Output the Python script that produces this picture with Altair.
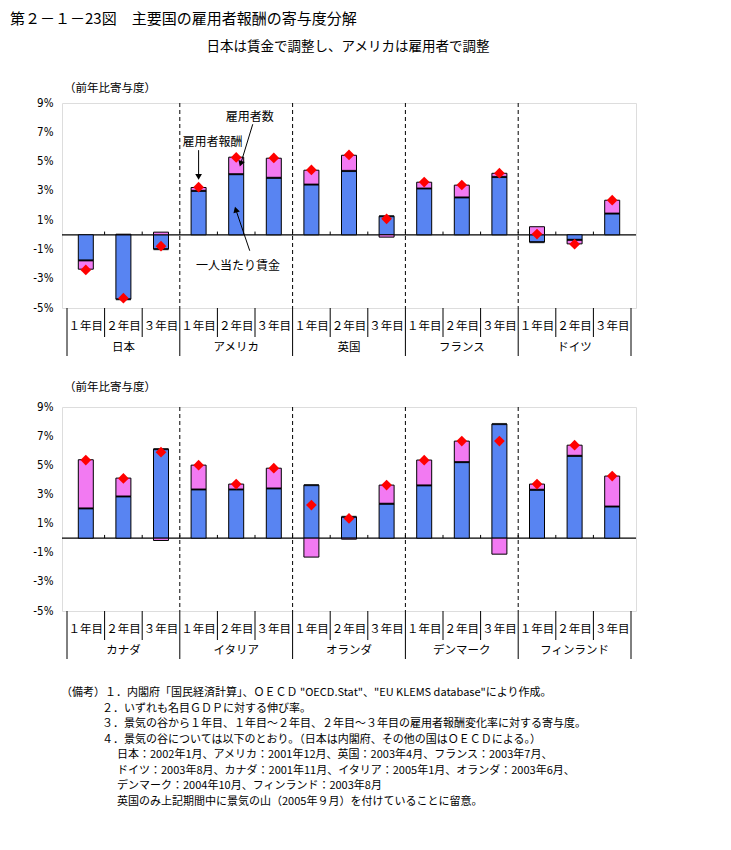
import altair as alt
import pandas as pd

FONT = "Noto Sans CJK JP"
NUMFONT = "Liberation Sans Narrow, DejaVu Sans Condensed, Liberation Sans"

years = ["１年目", "２年目", "３年目"]

countries_top = ["日本", "アメリカ", "英国", "フランス", "ドイツ"]
wage_top = [-1.75, -4.40, -0.98, 3.00, 4.14, 3.89, 3.43, 4.36, 1.27, 3.16, 2.55, 3.95, -0.50, -0.35, 1.45]
emp_top = [-0.60, 0.04, 0.18, 0.23, 1.16, 1.34, 0.98, 1.07, -0.16, 0.43, 0.84, 0.25, 0.55, -0.27, 0.91]
total_top = [-2.40, -4.33, -0.78, 3.25, 5.28, 5.25, 4.43, 5.45, 1.09, 3.60, 3.40, 4.21, 0.05, -0.64, 2.36]

countries_bottom = ["カナダ", "イタリア", "オランダ", "デンマーク", "フィンランド"]
wage_bottom = [2.04, 2.86, 6.11, 3.34, 3.34, 3.41, 3.64, 1.46, 2.36, 3.62, 5.22, 7.83, 3.32, 5.65, 2.17]
emp_bottom = [3.34, 1.26, -0.16, 1.67, 0.37, 1.39, -1.30, -0.07, 1.28, 1.74, 1.44, -1.10, 0.39, 0.73, 2.09]
total_bottom = [5.36, 4.10, 5.90, 5.01, 3.71, 4.80, 2.27, 1.35, 3.64, 5.35, 6.66, 6.66, 3.71, 6.38, 4.26]

y_ticks = [-5, -3, -1, 1, 3, 5, 7, 9]
y_domain = [-5, 9]

# annotations (top panel), in data units: category-index x, percent y
ann_labels = ["雇用者数", "雇用者報酬", "一人当たり賃金"]
ann_text_x = [4.86, 3.87, 4.55]
ann_text_y = [8.03, 6.33, -2.10]
ann_from_x = [4.94, 3.50, 4.86]
ann_from_y = [7.55, 5.78, -1.09]
ann_to_x = [4.62, 3.50, 4.49]
ann_to_y = [4.85, 3.95, 1.72]
ann_angle = [199, 180, 343]

title_text = "第２－１－23図　主要国の雇用者報酬の寄与度分解"
subtitle_text = "日本は賃金で調整し、アメリカは雇用者で調整"
unit_text = "（前年比寄与度）"
notes_1 = ["（備考）１．内閣府「国民経済計算」、ＯＥＣＤ \"OECD.Stat\"、\"EU KLEMS database\"により作成。"]
notes_2 = [
    "２．いずれも名目ＧＤＰに対する伸び率。",
    "３．景気の谷から１年目、１年目～２年目、２年目～３年目の雇用者報酬変化率に対する寄与度。",
    "４．景気の谷については以下のとおり。（日本は内閣府、その他の国はＯＥＣＤによる。）",
]
notes_3 = [
    "日本：2002年1月、アメリカ：2001年12月、英国：2003年4月、フランス：2003年7月、",
    "ドイツ：2003年8月、カナダ：2001年11月、イタリア：2005年1月、オランダ：2003年6月、",
    "デンマーク：2004年10月、フィンランド：2003年8月",
    "英国のみ上記期間中に景気の山（2005年９月）を付けていることに留意。",
]

BLUE = "#5884f2"
PINK = "#f27af2"

EXTENT = 53


def panel(countries, wage, emp, total, W, H, extra_layers):
    n = len(countries) * 3
    xs = alt.Scale(domain=[0, n], nice=False, zero=False)
    ys = alt.Scale(domain=y_domain, nice=False)
    yax = alt.Axis(values=y_ticks, labelExpr="datum.value + '%'", ticks=False, domain=False,
                   grid=False, labelPadding=9, title=None, labelFont=NUMFONT, labelFontSize=11.5,
                   labelColor="#000", minExtent=EXTENT, maxExtent=EXTENT)
    X = lambda f: alt.X(f, type="quantitative", scale=xs, axis=None)
    X2 = lambda f: alt.X2(f)
    Y = lambda f: alt.Y(f, type="quantitative", scale=ys, axis=yax)
    Y2 = lambda f: alt.Y2(f)

    rows = []
    for i in range(n):
        rows.append(dict(pos=i + 0.5, comp="一人当たり賃金", order=0, value=wage[i]))
        rows.append(dict(pos=i + 0.5, comp="雇用者数", order=1, value=emp[i]))
    bars_df = pd.DataFrame(rows)
    pts_df = pd.DataFrame(dict(pos=[i + 0.5 for i in range(n)], total=total, wage=wage,
                               year=[years[i % 3] for i in range(n)]))
    bounds_df = pd.DataFrame(dict(b=list(range(n + 1))))
    short_df = bounds_df[bounds_df.b % 3 != 0]
    long_df = bounds_df[bounds_df.b % 3 == 0]
    dash_df = pd.DataFrame(dict(b=[b for b in range(3, n, 3)]))
    ctry_df = pd.DataFrame(dict(c=countries, pos=[3 * g + 1.5 for g in range(len(countries))]))
    inner_df = pd.DataFrame(dict(b=[b for b in range(1, n)], z=0.0, t=0.22))

    zero = alt.Chart(pd.DataFrame(dict(z=[0.0]))).mark_rule(color="black", strokeWidth=1.3).encode(
        y=Y("z"), x=alt.value(0), x2=alt.value(W))
    zero_ticks = alt.Chart(inner_df).mark_rule(color="black", strokeWidth=1).encode(
        x=X("b"), y=Y("z"), y2=Y2("t"))
    bars = alt.Chart(bars_df).mark_bar(size=15, stroke="black", strokeWidth=1).encode(
        x=X("pos"),
        y=alt.Y("value:Q", scale=ys, axis=yax, stack="zero"),
        color=alt.Color("comp:N", scale=alt.Scale(domain=["一人当たり賃金", "雇用者数"], range=[BLUE, PINK]),
                        legend=None),
        order=alt.Order("order:Q"),
    )
    seg = alt.Chart(pts_df).mark_tick(orient="horizontal", size=15, thickness=2.2, color="black").encode(
        x=X("pos"), y=Y("wage"))
    dashes = alt.Chart(dash_df).mark_rule(color="black", strokeWidth=1, strokeDash=[4, 3]).encode(
        x=X("b"), y=alt.value(0), y2=alt.value(H))
    diamonds = alt.Chart(pts_df).mark_point(shape="diamond", filled=True, color="#ff0000", size=115,
                                            opacity=1).encode(x=X("pos"), y=Y("total"))
    year_lbl = alt.Chart(pts_df).mark_text(font=FONT, fontSize=11.5, baseline="middle").encode(
        x=X("pos"), y=alt.value(H + 19), text="year:N")
    ctry_lbl = alt.Chart(ctry_df).mark_text(font=FONT, fontSize=11.5, baseline="middle").encode(
        x=X("pos"), y=alt.value(H + 40), text="c:N")
    short_sep = alt.Chart(short_df).mark_rule(color="black", strokeWidth=1).encode(
        x=X("b"), y=alt.value(H), y2=alt.value(H + 29))
    long_sep = alt.Chart(long_df).mark_rule(color="black", strokeWidth=1).encode(
        x=X("b"), y=alt.value(H), y2=alt.value(H + 48))

    layers = [zero, zero_ticks, bars, seg, dashes, diamonds, year_lbl, ctry_lbl, short_sep, long_sep]
    layers += [f(X, X2, Y, Y2, W, H) for f in extra_layers]
    return alt.layer(*layers).properties(width=W, height=H)


one = pd.DataFrame(dict(a=[0]))


def top_texts(X, X2, Y, Y2, W, H):
    t1 = alt.Chart(one).mark_text(font=FONT, fontSize=15, align="left", baseline="middle",
                                  text=title_text).encode(x=alt.value(-52), y=alt.value(-84))
    t2 = alt.Chart(one).mark_text(font=FONT, fontSize=13.5, align="center", baseline="middle",
                                  text=subtitle_text).encode(x=alt.value(286), y=alt.value(-56))
    t3 = alt.Chart(one).mark_text(font=FONT, fontSize=11.5, align="left", baseline="middle",
                                  text=unit_text).encode(x=alt.value(2), y=alt.value(-14))
    return alt.layer(t1, t2, t3)


def annotations(X, X2, Y, Y2, W, H):
    df = pd.DataFrame(dict(lbl=ann_labels, tx=ann_text_x, ty=ann_text_y, fx=ann_from_x, fy=ann_from_y,
                           ex=ann_to_x, ey=ann_to_y, ang=ann_angle))
    lines = alt.Chart(df).mark_rule(color="black", strokeWidth=1).encode(
        x=X("fx"), y=Y("fy"), x2=X2("ex"), y2=Y2("ey"))
    heads = alt.Chart(df).mark_point(shape="triangle-up", filled=True, color="black", size=45,
                                     opacity=1).encode(x=X("ex"), y=Y("ey"),
                                                       angle=alt.Angle("ang:Q", scale=None))
    labels = alt.Chart(df).mark_text(font=FONT, fontSize=12, baseline="middle").encode(
        x=X("tx"), y=Y("ty"), text="lbl:N")
    return alt.layer(lines, heads, labels)


def bottom_texts(X, X2, Y, Y2, W, H):
    t3 = alt.Chart(one).mark_text(font=FONT, fontSize=11.5, align="left", baseline="middle",
                                  text=unit_text).encode(x=alt.value(2), y=alt.value(-19))
    n1 = alt.Chart(one).mark_text(font=FONT, fontSize=11, align="left", baseline="top",
                                  text=notes_1, lineHeight=15.5).encode(x=alt.value(-1), y=alt.value(280))
    n2 = alt.Chart(one).mark_text(font=FONT, fontSize=11, align="left", baseline="top",
                                  text=notes_2, lineHeight=15.5).encode(x=alt.value(40), y=alt.value(295.5))
    n3 = alt.Chart(one).mark_text(font=FONT, fontSize=11, align="left", baseline="top",
                                  text=notes_3, lineHeight=15.5).encode(x=alt.value(55), y=alt.value(342))
    return alt.layer(t3, n1, n2, n3)


top = panel(countries_top, wage_top, emp_top, total_top, 574, 205, [top_texts, annotations])
bottom = panel(countries_bottom, wage_bottom, emp_bottom, total_bottom, 574, 204, [bottom_texts])

chart = alt.vconcat(top, bottom, spacing=24).properties(
    padding={"left": 0, "top": 3, "right": 0, "bottom": 0}
).configure_view(
    stroke="black", strokeWidth=3
).configure(background="white")

chart.save("out.html", embed_options={"renderer": "svg", "actions": False})
